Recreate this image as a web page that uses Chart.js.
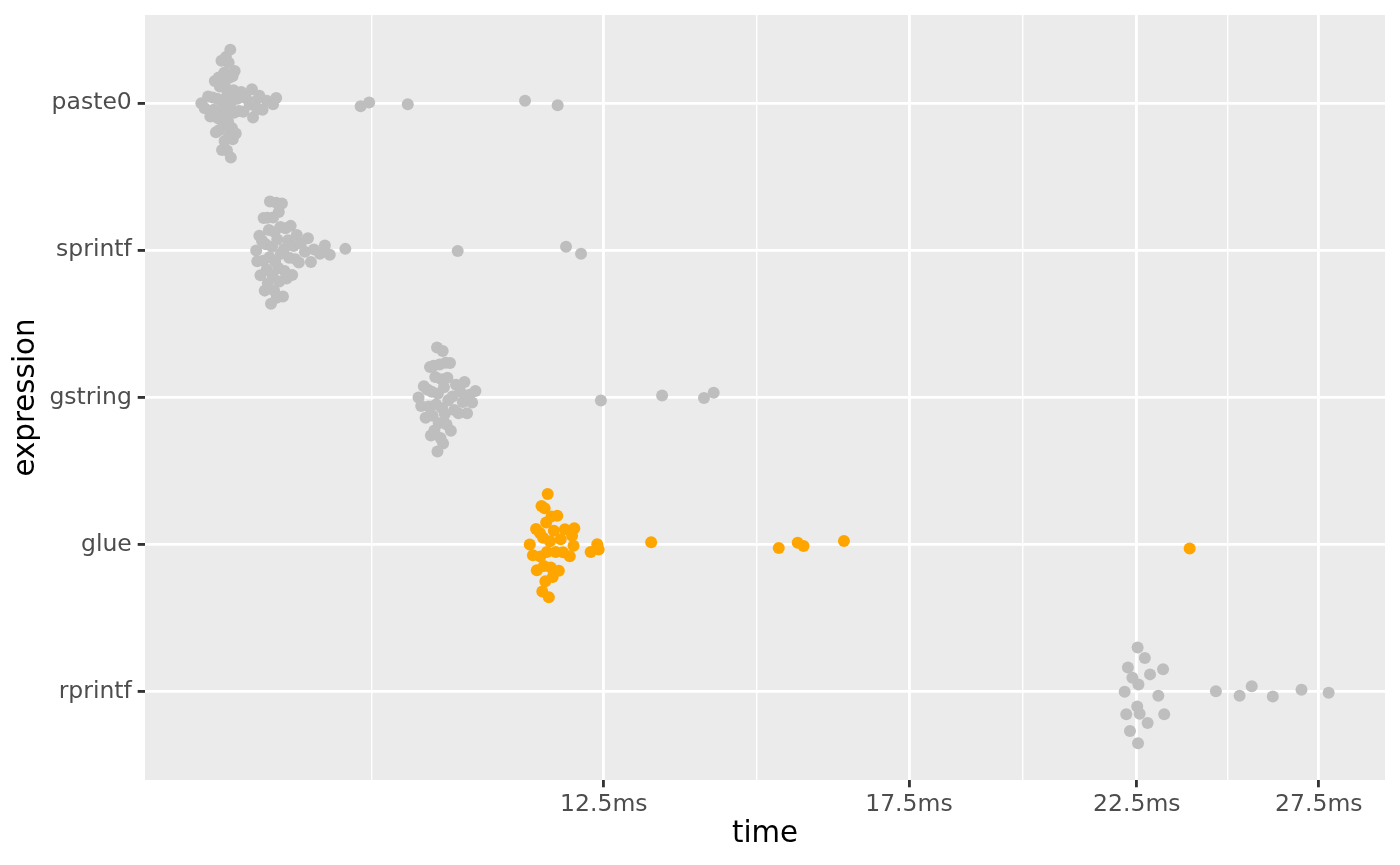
<!DOCTYPE html>
<html>
<head>
<meta charset="utf-8">
<script src="https://cdn.jsdelivr.net/npm/chart.js@4.4.1/dist/chart.umd.min.js"></script>
<style>
  html, body { margin: 0; padding: 0; background: #ffffff; }
  canvas { display: block; }
</style>
</head>
<body>
<canvas id="chart" width="1400" height="865"></canvas>
<script>
// ---------------- data (milliseconds per iteration) ----------------
const categories = ['paste0', 'sprintf', 'gstring', 'glue', 'rprintf'];

const paste0Times = [8.02, 8.05, 8.08, 8.10, 8.12, 8.13, 8.14, 8.15, 8.16, 8.17, 8.175, 8.18, 8.185, 8.19, 8.20,
  8.205, 8.21, 8.22, 8.225, 8.228, 8.23, 8.235, 8.24, 8.25, 8.255, 8.26, 8.265, 8.268, 8.27, 8.275, 8.28,
  8.285, 8.29, 8.295, 8.30, 8.302, 8.31, 8.315, 8.32, 8.33, 8.345, 8.36, 8.38, 8.40, 8.425, 8.46, 8.48,
  8.49, 8.51, 8.53, 8.55, 8.58, 8.62, 8.68, 8.71, 9.56, 9.65, 10.07, 11.46, 11.88];

const sprintfTimes = [8.52, 8.53, 8.55, 8.56, 8.575, 8.585, 8.59, 8.60, 8.61, 8.62, 8.625, 8.63, 8.64, 8.645,
  8.65, 8.66, 8.67, 8.675, 8.68, 8.69, 8.695, 8.70, 8.71, 8.715, 8.72, 8.73, 8.735, 8.74, 8.75, 8.755,
  8.765, 8.775, 8.785, 8.79, 8.80, 8.81, 8.825, 8.835, 8.85, 8.865, 8.88, 8.895, 8.91, 8.93, 8.95, 8.99,
  9.02, 9.05, 9.08, 9.14, 9.19, 9.24, 9.40, 10.64, 11.99, 12.19];

const gstringTimes = [10.19, 10.22, 10.25, 10.27, 10.29, 10.305, 10.32, 10.33, 10.34, 10.35, 10.36, 10.37,
  10.38, 10.39, 10.40, 10.405, 10.41, 10.42, 10.43, 10.44, 10.45, 10.46, 10.465, 10.47, 10.48, 10.49,
  10.50, 10.51, 10.52, 10.53, 10.55, 10.56, 10.58, 10.60, 10.62, 10.65, 10.67, 10.70, 10.72, 10.75,
  10.78, 10.81, 10.85, 12.46, 13.33, 13.96, 14.11];

const glueTimes = [11.52, 11.56, 11.60, 11.61, 11.65, 11.655, 11.67, 11.68, 11.69, 11.70, 11.71, 11.72,
  11.73, 11.74, 11.75, 11.765, 11.78, 11.79, 11.80, 11.815, 11.83, 11.855, 11.875, 11.895, 11.92, 11.95,
  11.975, 12.04, 12.07, 12.09, 12.10, 12.32, 12.41, 12.43, 13.17, 15.16, 15.48, 15.58, 16.29, 23.85];

const rprintfTimes = [22.20, 22.24, 22.28, 22.33, 22.39, 22.51, 22.52, 22.53, 22.54, 22.57, 22.70, 22.77,
  22.83, 23.04, 23.16, 23.19, 24.55, 25.20, 25.54, 26.14, 26.98, 27.80];

const seriesTimes = [paste0Times, sprintfTimes, gstringTimes, glueTimes, rprintfTimes];

// x axis breaks (log scale) and their labels
const xBreaks = [7.5, 12.5, 17.5, 22.5, 27.5];
const xBreakLabels = ['7.5ms', '12.5ms', '17.5ms', '22.5ms', '27.5ms'];

// ---------------- quasirandom (beeswarm) layout, as ggbeeswarm/vipor ----------------
function vanDerCorput(i) {
  let v = 0, denom = 1, k = i;
  while (k > 0) { denom *= 2; v += (k % 2) / denom; k = Math.floor(k / 2); }
  return v;
}
function quasiOffsets(times, width, adjust) {
  const n = times.length;
  if (n < 2) return times.map(() => 0);
  const y = times.map(t => Math.log10(t));
  const sorted = [...y].sort((a, b) => a - b);
  const mean = y.reduce((a, b) => a + b, 0) / n;
  const sd = Math.sqrt(y.reduce((a, b) => a + (b - mean) ** 2, 0) / (n - 1));
  const q = p => { const h = (n - 1) * p, lo = Math.floor(h); const hi = Math.min(lo + 1, n - 1);
    return sorted[lo] + (h - lo) * (sorted[hi] - sorted[lo]); };
  let lo = Math.min(sd, (q(0.75) - q(0.25)) / 1.34);
  if (!(lo > 0)) lo = sd || 1;
  const bw = 0.9 * lo * Math.pow(n, -0.2) * adjust;
  const kde = x => y.reduce((s, v) => s + Math.exp(-0.5 * ((x - v) / bw) ** 2), 0);
  const from = sorted[0] - 3 * bw, to = sorted[n - 1] + 3 * bw;
  let maxD = 0;
  for (let i = 0; i < 1024; i++) maxD = Math.max(maxD, kde(from + (to - from) * i / 1023));
  const order = y.map((v, i) => i).sort((a, b) => (y[a] - y[b]) || (a - b));
  const rank = new Array(n);
  order.forEach((k, r) => { rank[k] = r + 1; });
  return y.map((v, i) => (vanDerCorput(rank[i]) - 0.5) * 2 * (kde(v) / maxD) * width);
}

// ---------------- datasets ----------------
const pointColors = ['#BEBEBE', '#BEBEBE', '#BEBEBE', '#FFA500', '#BEBEBE'];
const datasets = categories.map((name, ci) => {
  const times = seriesTimes[ci];
  const offs = quasiOffsets(times, 0.4, 0.5);
  return {
    label: name,
    data: times.map((t, i) => ({ x: t, y: ci + 1 - offs[i] })),
    backgroundColor: pointColors[ci],
    borderWidth: 0,
    pointRadius: 6,
    pointHoverRadius: 6
  };
});

// x limits: data range expanded by 5% in log space (ggplot default)
const allTimes = seriesTimes.flat();
const lmin = Math.log10(Math.min(...allTimes)), lmax = Math.log10(Math.max(...allTimes));
const xMin = Math.pow(10, lmin - 0.05 * (lmax - lmin));
const xMax = Math.pow(10, lmax + 0.05 * (lmax - lmin));

const minorBreaks = [];
for (let i = 0; i < xBreaks.length - 1; i++) minorBreaks.push(Math.sqrt(xBreaks[i] * xBreaks[i + 1]));
const isMajor = v => xBreaks.some(b => Math.abs(b - v) < 1e-6);
const xTickValues = [...xBreaks, ...minorBreaks].filter(v => v >= xMin && v <= xMax).sort((a, b) => a - b);

const FONT = "'DejaVu Sans', 'Liberation Sans', sans-serif";

const panelBackground = {
  id: 'panelBackground',
  beforeDraw(chart) {
    const { ctx, chartArea: a } = chart;
    ctx.save();
    ctx.fillStyle = '#FFFFFF';
    ctx.fillRect(0, 0, chart.width, chart.height);
    ctx.fillStyle = '#EBEBEB';
    ctx.fillRect(a.left, a.top, a.right - a.left, a.bottom - a.top);
    ctx.restore();
  }
};

new Chart(document.getElementById('chart').getContext('2d'), {
  type: 'scatter',
  data: { datasets },
  options: {
    responsive: false,
    animation: false,
    devicePixelRatio: 1,
    layout: { padding: { left: 0, right: 15, top: 15, bottom: 0 } },
    plugins: { legend: { display: false }, tooltip: { enabled: false } },
    scales: {
      x: {
        type: 'logarithmic',
        position: 'bottom',
        min: xMin,
        max: xMax,
        afterBuildTicks: s => { s.ticks = xTickValues.map(v => ({ value: v })); },
        afterFit: s => { s.height = 85; s.paddingLeft = 0; s.paddingRight = 0; },
        ticks: {
          autoSkip: false, maxRotation: 0, minRotation: 0, padding: 3.5,
          color: '#4D4D4D', font: { family: FONT, size: 23.5 },
          callback: v => { const i = xBreaks.findIndex(b => Math.abs(b - v) < 1e-6); return i >= 0 ? xBreakLabels[i] : ''; }
        },
        grid: {
          color: '#FFFFFF',
          lineWidth: c => (c.tick && isMajor(c.tick.value)) ? 2.85 : 1.42,
          drawTicks: true, tickLength: 7.3, tickWidth: 2.85,
          tickColor: c => (c.tick && isMajor(c.tick.value)) ? '#333333' : 'rgba(0,0,0,0)'
        },
        border: { display: false },
        title: { display: true, text: 'time', color: '#000000', font: { family: FONT, size: 29.3 }, padding: { top: 0, bottom: 13 } }
      },
      y: {
        type: 'linear',
        reverse: true,
        min: 0.4,
        max: 5.6,
        afterBuildTicks: s => { s.ticks = categories.map((c, i) => ({ value: i + 1 })); },
        afterFit: s => { s.width = 145; s.paddingTop = 0; s.paddingBottom = 0; },
        ticks: {
          autoSkip: false, padding: 5.9,
          color: '#4D4D4D', font: { family: FONT, size: 23.5 },
          callback: v => categories[Math.round(v) - 1] || ''
        },
        grid: { color: '#FFFFFF', lineWidth: 2.85, drawTicks: true, tickLength: 7.3, tickWidth: 2.85, tickColor: '#333333' },
        border: { display: false },
        title: { display: true, text: 'expression', color: '#000000', font: { family: FONT, size: 29.3 }, padding: { top: 9, bottom: 0 } }
      }
    }
  },
  plugins: [panelBackground]
});
</script>
</body>
</html>
